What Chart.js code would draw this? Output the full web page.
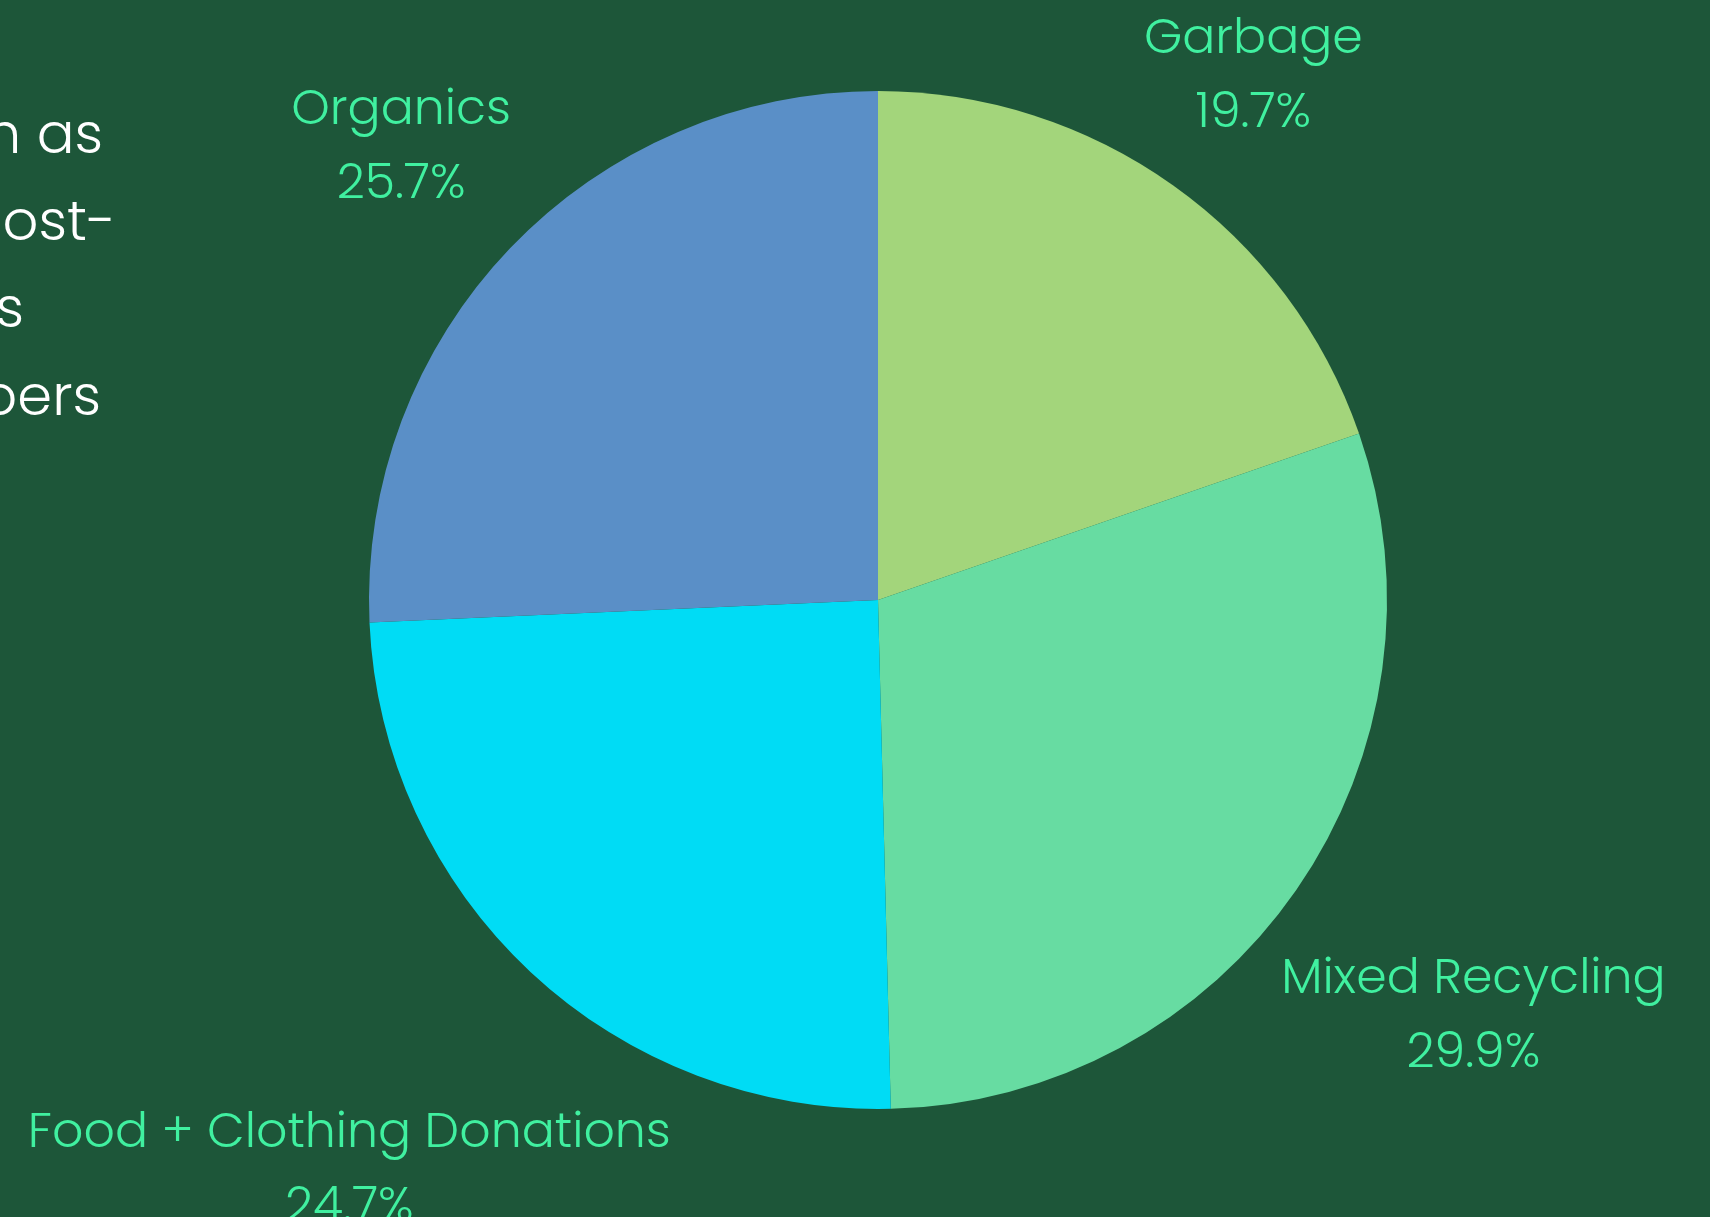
<!DOCTYPE html>
<html>
<head>
<meta charset="utf-8">
<script src="https://cdn.jsdelivr.net/npm/chart.js@4.4.1/dist/chart.umd.min.js"></script>
<style>
  html, body { margin: 0; padding: 0; background: #1d5639; overflow: hidden; }
  #wrap { position: relative; width: 1710px; height: 1217px; }
  #side { position: absolute; left: 0; top: 0; width: 1710px; height: 1217px; pointer-events: none;
    font-family: Poppins, "Open Sans", Lato, sans-serif; font-weight: 300; font-size: 56px; color: #ffffff; }
  #side div { position: absolute; white-space: nowrap; line-height: 1; }
</style>
</head>
<body>
<div id="wrap">
  <canvas id="chart" width="1710" height="1217"></canvas>
  <div id="side">
    <div style="right:1607px; top:106px">such as</div>
    <div style="right:1594px; top:193px">compost-</div>
    <div style="right:1686px; top:280px">items</div>
    <div style="right:1609px; top:368px">papers</div>
  </div>
</div>
<script>
const labels = ['Garbage', 'Mixed Recycling', 'Food + Clothing Donations', 'Organics']
const shares = [19.7, 29.9, 24.7, 25.7]
const sliceColors = ['#a3d57b', '#67dca2', '#00dcf5', '#5a8fc7']

const labelColor = '#40f0a0'
const labelFont = '300 49px Poppins, "Open Sans", Lato, sans-serif'

// draws "name / percent" outside each slice, on the slice's middle ray
const outsideLabels = {
  id: 'outsideLabels',
  afterDatasetsDraw(chart) {
    const ctx = chart.ctx
    const meta = chart.getDatasetMeta(0)
    ctx.save()
    ctx.font = labelFont
    ctx.fillStyle = labelColor
    ctx.textAlign = 'center'
    ctx.textBaseline = 'middle'
    const lineGap = 74
    meta.data.forEach((arc, i) => {
      const { x, y, startAngle, endAngle, outerRadius } = arc.getProps(['x', 'y', 'startAngle', 'endAngle', 'outerRadius'], true)
      const mid = (startAngle + endAngle) / 2
      const ux = Math.cos(mid)
      const uy = Math.sin(mid)
      const lines = [labels[i], shares[i].toFixed(1) + '%']
      const w = Math.max(...lines.map(t => ctx.measureText(t).width))
      const d = outerRadius + 86 + 0.41 * w * Math.abs(ux)
      const cx = x + d * ux
      const cy = y + d * uy + 5
      ctx.fillText(lines[0], cx, cy - lineGap / 2)
      ctx.fillText(lines[1], cx, cy + lineGap / 2)
    })
    ctx.restore()
  }
}

new Chart(document.getElementById('chart'), {
  type: 'pie',
  data: {
    labels: labels,
    datasets: [{
      data: shares,
      backgroundColor: sliceColors,
      borderWidth: 0
    }]
  },
  options: {
    responsive: false,
    animation: false,
    layout: { padding: { top: 91, bottom: 108, left: 300, right: 254 } },
    plugins: {
      legend: { display: false },
      tooltip: { enabled: false }
    }
  },
  plugins: [outsideLabels]
})
</script>
</body>
</html>
